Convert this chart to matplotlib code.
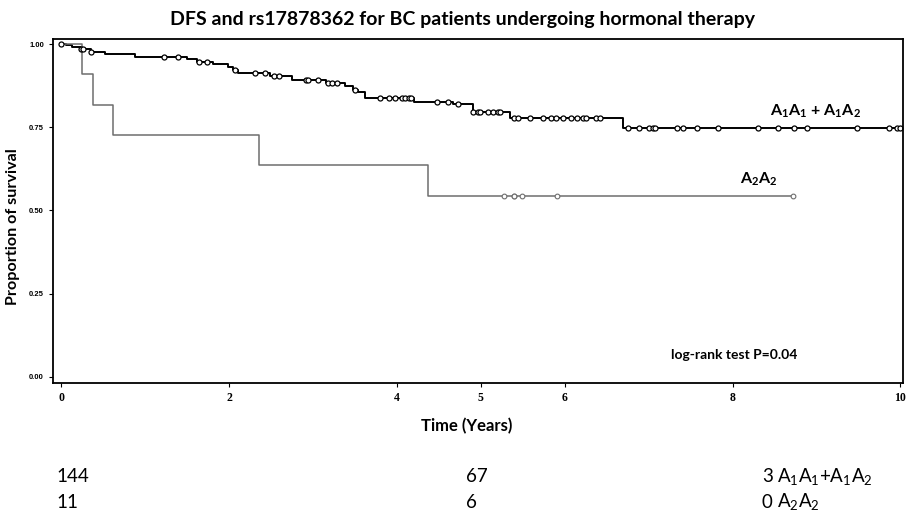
# Kaplan-Meier style DFS chart, redrawn from the picture
import matplotlib.pyplot as plt
import numpy as np

plt.rcParams['font.family'] = ['Lato', 'DejaVu Sans']
plt.rcParams['mathtext.fontset'] = 'custom'
plt.rcParams['mathtext.rm'] = 'Lato'
plt.rcParams['mathtext.bf'] = 'Lato:bold'

# A1A1 + A1A2 group: event times (years) and survival after each step
t_event_1 = [0.05, 0.13, 0.23, 0.35, 0.52, 0.88, 1.50, 1.62, 1.81, 1.99, 2.05, 2.10,
             2.49, 2.75, 3.15, 3.38, 3.47, 3.54, 3.62, 4.20, 4.67, 4.90, 5.35, 6.69]
s_event_1 = [0.996, 0.992, 0.985, 0.976, 0.970, 0.960, 0.954, 0.947, 0.940, 0.932, 0.922, 0.914,
             0.904, 0.892, 0.882, 0.873, 0.863, 0.855, 0.838, 0.825, 0.819, 0.797, 0.779, 0.748]
t_cens_1 = [0.0, 0.23, 0.26, 0.35, 1.22, 1.39, 1.64, 1.74, 2.07, 2.31, 2.43, 2.53, 2.59,
            2.91, 2.94, 3.06, 3.18, 3.23, 3.29, 3.50, 3.80, 3.90, 3.98, 4.06, 4.10, 4.14,
            4.17, 4.48, 4.61, 4.73, 4.91, 4.96, 4.99, 5.08, 5.14, 5.20, 5.23, 5.39, 5.44,
            5.59, 5.74, 5.83, 5.89, 5.98, 6.07, 6.15, 6.22, 6.25, 6.37, 6.42, 6.75, 6.88,
            7.00, 7.05, 7.07, 7.34, 7.41, 7.58, 7.83, 8.30, 8.54, 8.73, 8.89, 9.48, 9.86,
            9.96, 10.0]
end_1 = 10.0

# A2A2 group
t_event_2 = [0.25, 0.38, 0.61, 2.35, 4.37]
s_event_2 = [0.909, 0.818, 0.727, 0.636, 0.545]
t_cens_2 = [5.27, 5.39, 5.40, 5.49, 5.91, 8.72]
end_2 = 8.72

# numbers at risk table
risk_1 = ['144', '67', '3']
risk_2 = ['11', '6', '0']

x_ticks = [0, 2, 4, 5, 6, 8, 10]
y_ticks = [0.00, 0.25, 0.50, 0.75, 1.00]


def km_curve(t_ev, s_ev, t_end):
    t = np.concatenate([[0.0], t_ev, [t_end]])
    s = np.concatenate([[1.0], s_ev, [s_ev[-1]]])
    return t, s


def surv_at(t_ev, s_ev, tc):
    idx = np.searchsorted(t_ev, tc, side='right')
    s = np.concatenate([[1.0], s_ev])
    return s[idx]


fig = plt.figure(figsize=(9.08, 5.16), dpi=100)
ax = fig.add_axes([0.0584, 0.2578, 0.936, 0.6666])

t1, s1 = km_curve(t_event_1, s_event_1, end_1)
t2, s2 = km_curve(t_event_2, s_event_2, end_2)
ax.step(t1, s1, where='post', color='black', lw=1.4)
ax.step(t2, s2, where='post', color='#6e6e6e', lw=1.1)
ax.plot(t_cens_1, surv_at(t_event_1, s_event_1, t_cens_1), 'o', ms=3.6,
        mfc='white', mec='black', mew=0.9)
ax.plot(t_cens_2, surv_at(t_event_2, s_event_2, t_cens_2), 'o', ms=3.4,
        mfc='white', mec='#6e6e6e', mew=0.8)

ax.set_xlim(-0.1, 10.03)
ax.set_ylim(-0.018, 1.015)
ax.set_xticks(x_ticks)
ax.set_yticks(y_ticks)
ax.set_yticklabels([f'{v:.2f}' for v in y_ticks], fontsize=5.5, fontweight='bold',
                   family='Liberation Sans')
ax.set_xticklabels([str(v) for v in x_ticks], fontsize=8.5, fontweight='bold',
                   family='Liberation Serif')
ax.tick_params(axis='both', length=3, width=0.8)
for sp in ax.spines.values():
    sp.set_linewidth(1.3)

ax.set_xlabel('Time (Years)', fontsize=12, fontweight='bold')
ax.xaxis.set_label_coords(0.487, -0.102)
ax.set_ylabel('Proportion of survival', fontsize=11.6, fontweight='bold')
ax.yaxis.set_label_coords(-0.039, 0.456)
fig.text(463 / 908, 1 - 20 / 516,
         'DFS and rs17878362 for BC patients undergoing hormonal therapy',
         ha='center', va='center', fontsize=14, fontweight='bold')

ax.text(8.45, 0.798, r'A$_\mathbf{1}$A$_\mathbf{1}$ + A$_\mathbf{1}$A$_\mathbf{2}$',
        fontsize=11.5, fontweight='bold', va='center')
ax.text(8.09, 0.593, r'A$_\mathbf{2}$A$_\mathbf{2}$', fontsize=11.5, fontweight='bold',
        va='center')
ax.text(7.26, 0.066, 'log-rank test P=0.04', fontsize=10, fontweight='bold', va='center')

# numbers at risk below the chart
xs = [56 / 908, 466 / 908, 762 / 908]
for x, a, b in zip(xs, risk_1, risk_2):
    fig.text(x, 1 - 477 / 516, a, fontsize=13.5, va='center')
    fig.text(x, 1 - 502 / 516, b, fontsize=13.5, va='center')
fig.text(777 / 908, 1 - 477 / 516, r'A$_1$A$_1$+A$_1$A$_2$', fontsize=13.5, va='center')
fig.text(777 / 908, 1 - 502 / 516, r'A$_2$A$_2$', fontsize=13.5, va='center')

fig.savefig('out.png', dpi=100)
